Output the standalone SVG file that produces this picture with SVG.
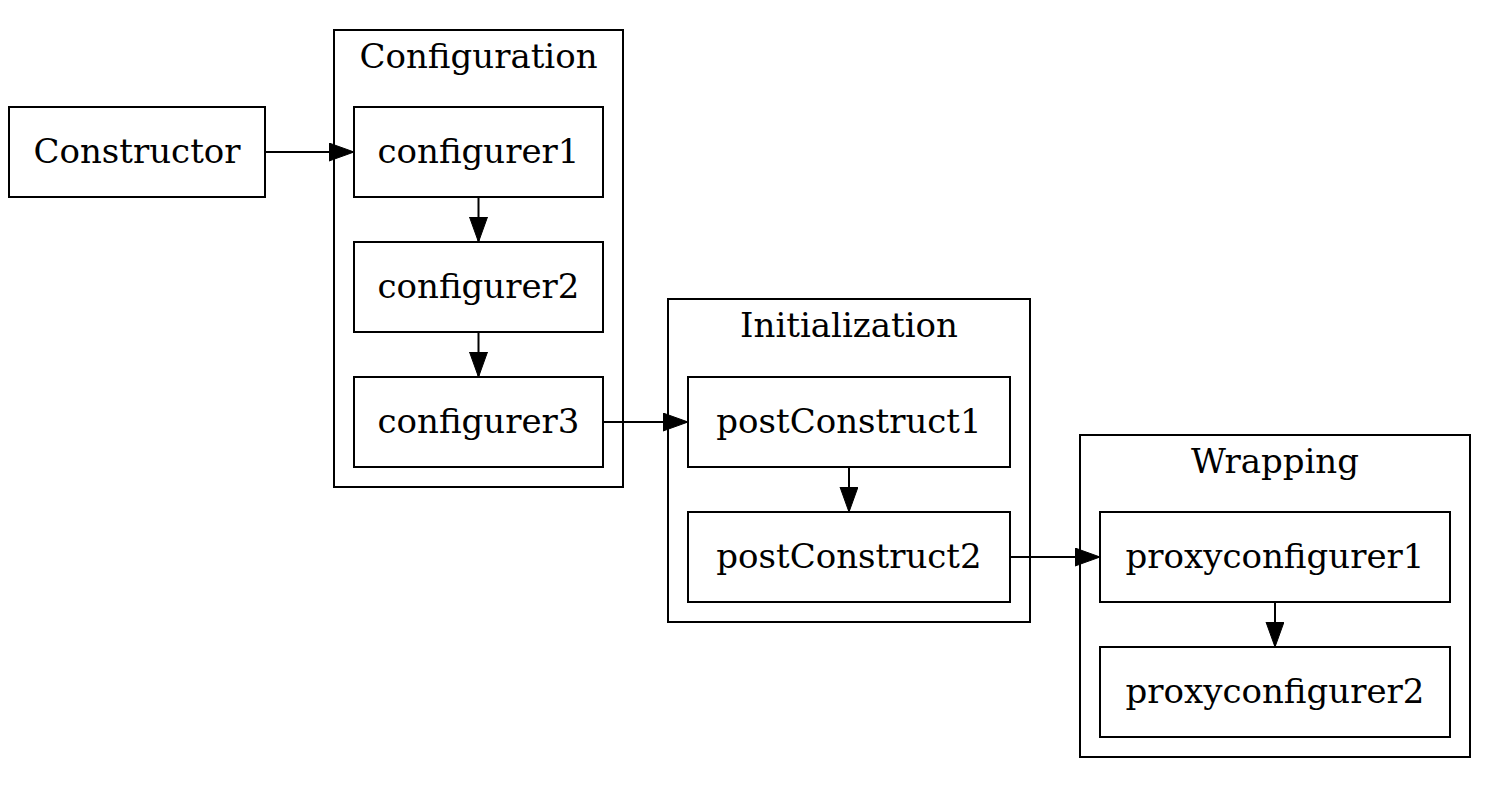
<svg xmlns="http://www.w3.org/2000/svg" width="1500" height="788" viewBox="0 0 1500 788">
<style>
.box{fill:#fff;stroke:#000;stroke-width:2}
.cl{fill:none;stroke:#000;stroke-width:2}
text{font-family:"DejaVu Serif",serif;font-size:34px;fill:#000;text-anchor:middle}
.edge{stroke:#000;stroke-width:2;fill:none}
</style>
<defs>
<marker id="ah" markerUnits="userSpaceOnUse" markerWidth="26" markerHeight="20" refX="25" refY="9" orient="auto">
<path d="M0,0 L25,9 L0,18 z" fill="#000" stroke="#000" stroke-width="1"/>
</marker>
</defs>
<rect width="1500" height="788" fill="#fff"/>
<g id="cluster-configuration">
<rect class="cl" x="334" y="30" width="289" height="457"/>
<text x="478.5" y="68">Configuration</text>
</g>
<g id="cluster-initialization">
<rect class="cl" x="668" y="299" width="362" height="323"/>
<text x="849" y="337">Initialization</text>
</g>
<g id="cluster-wrapping">
<rect class="cl" x="1080" y="435" width="390" height="322"/>
<text x="1275" y="473">Wrapping</text>
</g>
<g id="constructor">
<rect class="box" x="9" y="107" width="256" height="90"/>
<text x="137" y="163">Constructor</text>
</g>
<g id="configurer1">
<rect class="box" x="354" y="107" width="249" height="90"/>
<text x="478.5" y="163">configurer1</text>
</g>
<g id="configurer2">
<rect class="box" x="354" y="242" width="249" height="90"/>
<text x="478.5" y="298">configurer2</text>
</g>
<g id="configurer3">
<rect class="box" x="354" y="377" width="249" height="90"/>
<text x="478.5" y="433">configurer3</text>
</g>
<g id="postConstruct1">
<rect class="box" x="688" y="377" width="322" height="90"/>
<text x="849" y="433">postConstruct1</text>
</g>
<g id="postConstruct2">
<rect class="box" x="688" y="512" width="322" height="90"/>
<text x="849" y="568">postConstruct2</text>
</g>
<g id="proxyconfigurer1">
<rect class="box" x="1100" y="512" width="350" height="90"/>
<text x="1275" y="568">proxyconfigurer1</text>
</g>
<g id="proxyconfigurer2">
<rect class="box" x="1100" y="647" width="350" height="90"/>
<text x="1275" y="703">proxyconfigurer2</text>
</g>
<g id="connectors">
<path class="edge" d="M265,152 H354" marker-end="url(#ah)"/>
<path class="edge" d="M478.5,197 V242" marker-end="url(#ah)"/>
<path class="edge" d="M478.5,332 V377" marker-end="url(#ah)"/>
<path class="edge" d="M603,422 H688" marker-end="url(#ah)"/>
<path class="edge" d="M849,467 V512" marker-end="url(#ah)"/>
<path class="edge" d="M1010,557 H1100" marker-end="url(#ah)"/>
<path class="edge" d="M1275,602 V647" marker-end="url(#ah)"/>
</g>
</svg>
